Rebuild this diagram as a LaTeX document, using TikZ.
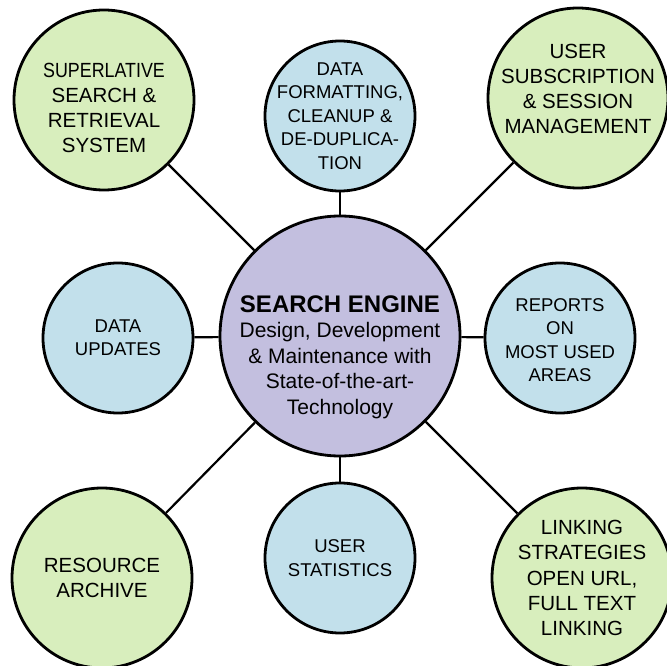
\documentclass[tikz,border=0pt]{standalone}
\usepackage{fontspec}
\setmainfont{Liberation Sans}
\usetikzlibrary{shapes}
\definecolor{leaf}{HTML}{D8EEBD}
\definecolor{sky}{HTML}{C2E0EB}
\definecolor{lilac}{HTML}{C3BFDF}
\tikzset{
  bubble/.style={shape=circle,draw=black,line width=2.8pt,inner sep=0pt},
  greenbubble/.style={bubble,fill=leaf,minimum size=180pt},
  bluebubble/.style={bubble,fill=sky,minimum size=150pt},
  greentxt/.style={align=center,inner sep=0pt,font=\fontsize{20.5}{25.2}\selectfont},
  bluetxt/.style={align=center,inner sep=0pt,font=\fontsize{18.5}{23.4}\selectfont},
  hubtxt/.style={align=center,inner sep=0pt,font=\fontsize{21}{25.6}\selectfont}
}
\begin{document}
\begin{tikzpicture}[x=1pt,y=-1pt,line width=2.2pt]
                \useasboundingbox (0,0) rectangle (667,666);
                \node[bubble,fill=lilac,minimum size=240pt](engine)at(340, 336){};
                \node[greenbubble](retrieval)at(104, 100){};
                \node[bluebubble](formatting)at(340, 116){};
                \node[greenbubble](subscription)at(578, 98){};
                \node[bluebubble](updates)at(118, 338){};
                \node[bluebubble](reports)at(560, 338){};
                \node[greenbubble](archive)at(102, 578){};
                \node[bluebubble](statistics)at(340, 558){};
                \node[greenbubble](linking)at(582, 578){};
                \path[](engine) edge (retrieval)
                (engine) edge (formatting)
                (engine) edge (subscription)
                (engine) edge (updates)
                (engine) edge (reports)
                (engine) edge (archive)
                (engine) edge (statistics)
                (engine) edge (linking);
                % texts
                \node[hubtxt](engine-txt)at([yshift=-21pt]engine.center){{\fontsize{24}{25.6}\selectfont\bfseries SEARCH ENGINE}\\Design, Development\\\& Maintenance with\\State-of-the-art-\\Technology};
                \node[greentxt](retrieval-txt)at([yshift=-8pt]retrieval.center){\scalebox{0.87}[1]{SUPERLATIVE}\\SEARCH \&\\RETRIEVAL\\SYSTEM};
                \node[bluetxt](formatting-txt)at(formatting.center){DATA\\FORMATTING,\\CLEANUP \&\\DE-DUPLICA-\\TION};
                \node[greentxt](subscription-txt)at([yshift=9pt]subscription.center){USER\\SUBSCRIPTION\\\& SESSION\\MANAGEMENT};
                \node[bluetxt](updates-txt)at(updates.center){DATA\\UPDATES};
                \node[bluetxt](reports-txt)at([yshift=-2pt]reports.center){REPORTS\\ON\\MOST USED\\AREAS};
                \node[greentxt](archive-txt)at(archive.center){RESOURCE\\ARCHIVE};
                \node[bluetxt](statistics-txt)at(statistics.center){USER\\STATISTICS};
                \node[greentxt](linking-txt)at(linking.center){LINKING\\STRATEGIES\\OPEN URL,\\FULL TEXT\\LINKING};
            \end{tikzpicture}
\end{document}
